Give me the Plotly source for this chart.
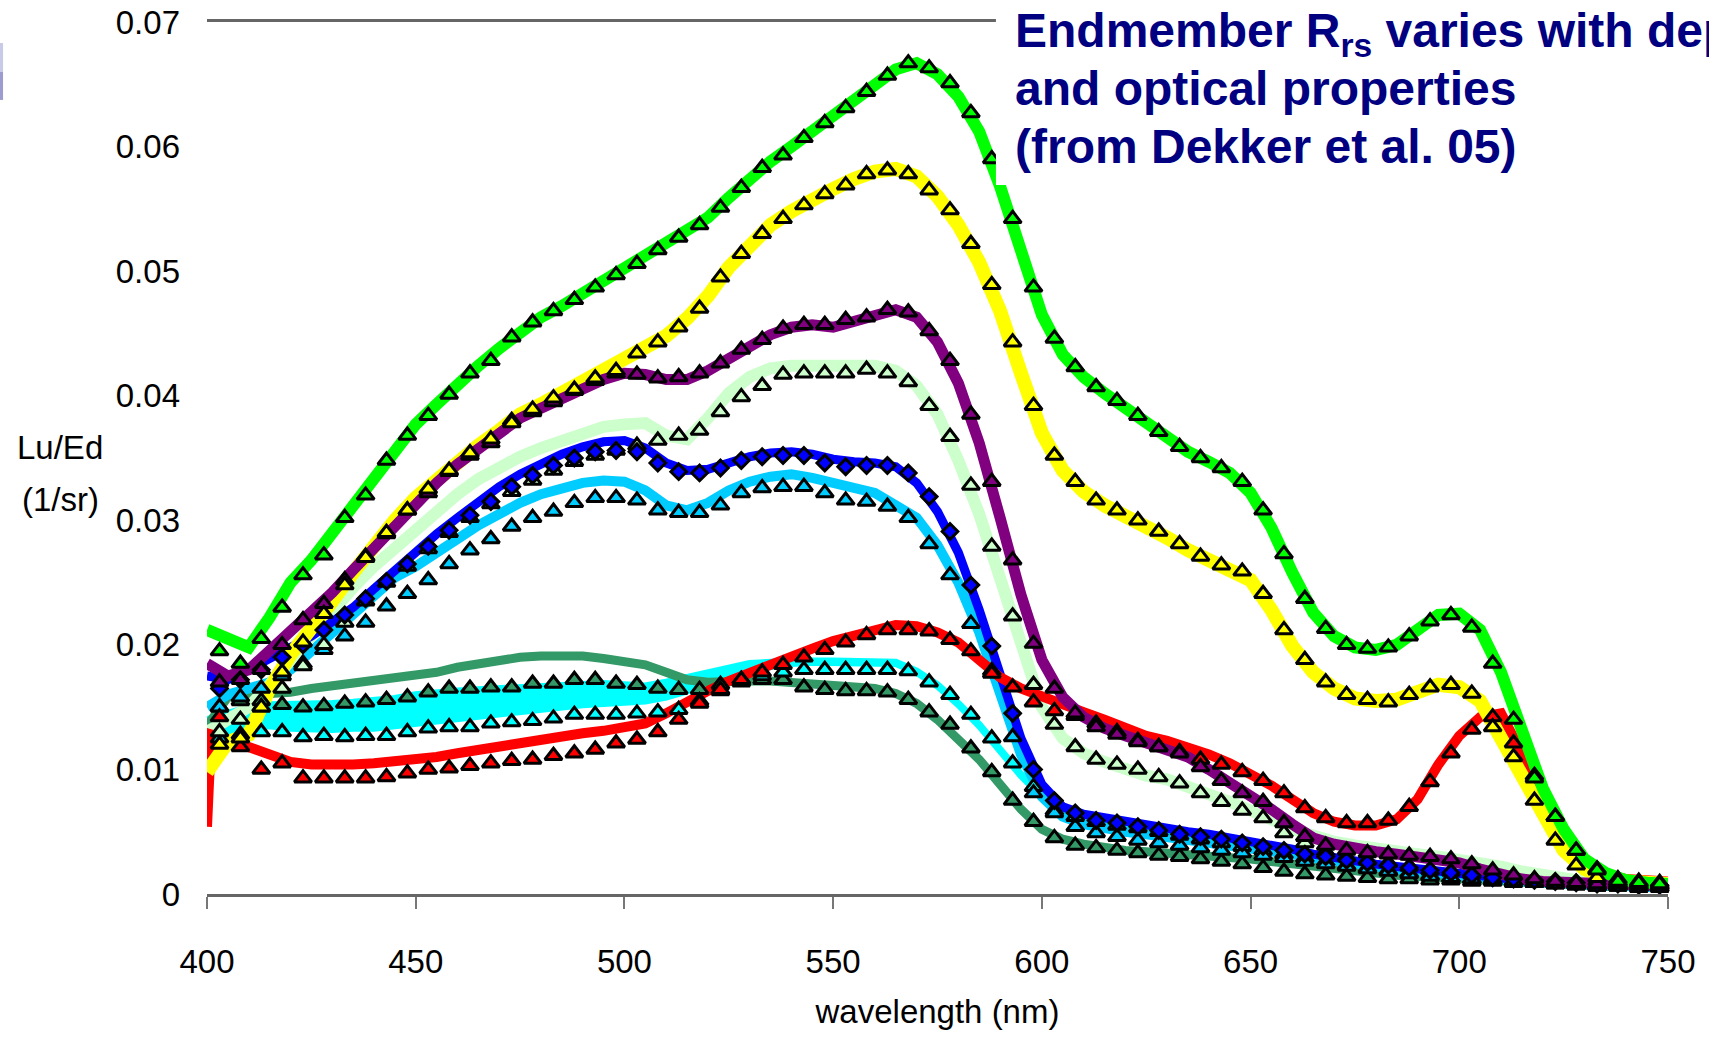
import plotly.graph_objects as go

# ---------------- data ----------------
WL = list(range(400, 751, 5))          # line samples (71)
WL_TRI = list(range(403, 749, 5))      # triangle samples (70)
RED_WL = [400, 401] + list(range(405, 751, 5))  # red line samples (72)

X_TICKS = [400, 450, 500, 550, 600, 650, 700, 750]
Y_TICKS = [0, 0.01, 0.02, 0.03, 0.04, 0.05, 0.06, 0.07]
Y_LABELS = ["0", "0.01", "0.02", "0.03", "0.04", "0.05", "0.06", "0.07"]
Y_GRID = [0, 0.02, 0.04, 0.06]

green_line = [
    0.0212, 0.0205, 0.0198, 0.0222, 0.0250, 0.0268, 0.0290, 0.0312, 0.0335, 0.0358,
    0.0377, 0.0393, 0.0410, 0.0424, 0.0438, 0.0452, 0.0463, 0.0472, 0.0482, 0.0491,
    0.0501, 0.0511, 0.0522, 0.0532, 0.0543, 0.0559, 0.0575, 0.0588, 0.0600, 0.0613,
    0.0625, 0.0638, 0.0651, 0.0662, 0.0667, 0.0658, 0.0640, 0.0612, 0.0568, 0.0515,
    0.0465, 0.0433, 0.0415, 0.0402, 0.0390, 0.0378, 0.0366, 0.0355, 0.0347, 0.0338,
    0.0322, 0.0294, 0.0258, 0.0226, 0.0207, 0.0198, 0.0196, 0.0200, 0.0212, 0.0224,
    0.0225, 0.0212, 0.0178, 0.0128, 0.0085, 0.0052, 0.0028, 0.0017, 0.0011, 0.0009,
    0.0008]
green_tri = [
    0.0195, 0.0185, 0.0205, 0.0230, 0.0256, 0.0272, 0.0302, 0.0320, 0.0348, 0.0368,
    0.0384, 0.0401, 0.0418, 0.0428, 0.0447, 0.0459, 0.0468, 0.0477, 0.0487, 0.0497,
    0.0506, 0.0517, 0.0527, 0.0537, 0.0551, 0.0567, 0.0583, 0.0593, 0.0607, 0.0619,
    0.0631, 0.0644, 0.0657, 0.0667, 0.0663, 0.0651, 0.0627, 0.0590, 0.0542, 0.0487,
    0.0446, 0.0423, 0.0407, 0.0396, 0.0384, 0.0371, 0.0359, 0.0350, 0.0342, 0.0331,
    0.0308, 0.0273, 0.0237, 0.0213, 0.0200, 0.0197, 0.0198, 0.0207, 0.0219, 0.0224,
    0.0214, 0.0185, 0.0140, 0.0093, 0.0062, 0.0035, 0.0019, 0.0010, 0.0009, 0.0008]

yellow_line = [
    0.0098, 0.0122, 0.0128, 0.0165, 0.0192, 0.0212, 0.0235, 0.0258, 0.0280, 0.0300,
    0.0318, 0.0333, 0.0348, 0.0360, 0.0372, 0.0385, 0.0393, 0.0402, 0.0410, 0.0418,
    0.0427, 0.0437, 0.0448, 0.0462, 0.0480, 0.0503, 0.0522, 0.0537, 0.0548, 0.0558,
    0.0566, 0.0574, 0.0580, 0.0582, 0.0576, 0.0560, 0.0537, 0.0507, 0.0468, 0.0418,
    0.0370, 0.0340, 0.0323, 0.0312, 0.0304, 0.0296, 0.0286, 0.0276, 0.0268, 0.0262,
    0.0252, 0.0228, 0.0199, 0.0178, 0.0165, 0.0157, 0.0155, 0.0156, 0.0163, 0.0168,
    0.0166, 0.0155, 0.0125, 0.0095, 0.0062, 0.0035, 0.0020, 0.0013, 0.0010, 0.0008,
    0.0008]
yellow_tri = [
    0.0120, 0.0125, 0.0150, 0.0178, 0.0202, 0.0225, 0.0248, 0.0270, 0.0290, 0.0308,
    0.0325, 0.0340, 0.0354, 0.0365, 0.0378, 0.0389, 0.0398, 0.0405, 0.0414, 0.0420,
    0.0434, 0.0443, 0.0455, 0.0470, 0.0495, 0.0514, 0.0530, 0.0542, 0.0553, 0.0562,
    0.0569, 0.0578, 0.0581, 0.0578, 0.0565, 0.0549, 0.0522, 0.0489, 0.0443, 0.0392,
    0.0352, 0.0331, 0.0316, 0.0308, 0.0300, 0.0291, 0.0281, 0.0271, 0.0264, 0.0259,
    0.0241, 0.0212, 0.0188, 0.0170, 0.0160, 0.0156, 0.0154, 0.0160, 0.0166, 0.0168,
    0.0161, 0.0134, 0.0110, 0.0075, 0.0043, 0.0023, 0.0013, 0.0009, 0.0008, 0.0007]

purple_line = [
    0.0185, 0.0175, 0.0180, 0.0195, 0.0212, 0.0226, 0.0242, 0.0260, 0.0278, 0.0297,
    0.0314, 0.0330, 0.0345, 0.0357, 0.0370, 0.0382, 0.0390, 0.0398, 0.0406, 0.0413,
    0.0418, 0.0417, 0.0413, 0.0413, 0.0420, 0.0430, 0.0440, 0.0449, 0.0455, 0.0457,
    0.0455, 0.0460, 0.0466, 0.0469, 0.0463, 0.0443, 0.0410, 0.0362, 0.0302, 0.0240,
    0.0188, 0.0158, 0.0142, 0.0133, 0.0127, 0.0122, 0.0117, 0.0110, 0.0100, 0.0090,
    0.0080, 0.0068, 0.0056, 0.0045, 0.0040, 0.0036, 0.0034, 0.0032, 0.0030, 0.0028,
    0.0025, 0.0020, 0.0015, 0.0012, 0.0010, 0.0009, 0.0008, 0.0008, 0.0007, 0.0007,
    0.0007]
purple_tri = [
    0.0170, 0.0172, 0.0180, 0.0200, 0.0220, 0.0233, 0.0252, 0.0271, 0.0289, 0.0308,
    0.0322, 0.0339, 0.0352, 0.0362, 0.0380, 0.0387, 0.0395, 0.0404, 0.0412, 0.0418,
    0.0417, 0.0414, 0.0415, 0.0418, 0.0426, 0.0437, 0.0445, 0.0454, 0.0457, 0.0457,
    0.0461, 0.0463, 0.0469, 0.0467, 0.0452, 0.0428, 0.0385, 0.0331, 0.0268, 0.0201,
    0.0165, 0.0145, 0.0134, 0.0128, 0.0122, 0.0118, 0.0113, 0.0102, 0.0091, 0.0081,
    0.0074, 0.0057, 0.0046, 0.0039, 0.0035, 0.0033, 0.0032, 0.0031, 0.0030, 0.0028,
    0.0024, 0.0019, 0.0015, 0.0012, 0.0010, 0.0009, 0.0008, 0.0008, 0.0007, 0.0007]

lightgreen_line = [
    0.0130, 0.0140, 0.0150, 0.0168, 0.0188, 0.0208, 0.0228, 0.0246, 0.0263, 0.0278,
    0.0293, 0.0308, 0.0321, 0.0333, 0.0343, 0.0351, 0.0358, 0.0364, 0.0370, 0.0375,
    0.0377, 0.0378, 0.0368, 0.0365, 0.0382, 0.0402, 0.0415, 0.0422, 0.0424, 0.0424,
    0.0424, 0.0424, 0.0424, 0.0420, 0.0408, 0.0385, 0.0348, 0.0305, 0.0255, 0.0200,
    0.0150, 0.0125, 0.0113, 0.0106, 0.0100, 0.0095, 0.0092, 0.0087, 0.0080, 0.0074,
    0.0068, 0.0060, 0.0052, 0.0046, 0.0042, 0.0039, 0.0036, 0.0034, 0.0032, 0.0030,
    0.0028, 0.0025, 0.0022, 0.0018, 0.0015, 0.0012, 0.0010, 0.0009, 0.0008, 0.0008,
    0.0008]
lightgreen_tri = [
    0.0130, 0.0140, 0.0150, 0.0165, 0.0183, 0.0200, 0.0218, 0.0235, 0.0250, 0.0263,
    0.0277, 0.0290, 0.0302, 0.0313, 0.0323, 0.0332, 0.0340, 0.0347, 0.0352, 0.0356,
    0.0360, 0.0364, 0.0368, 0.0372, 0.0387, 0.0399, 0.0408, 0.0417, 0.0418, 0.0418,
    0.0418, 0.0421, 0.0418, 0.0411, 0.0392, 0.0367, 0.0328, 0.0279, 0.0223, 0.0168,
    0.0136, 0.0118, 0.0108, 0.0104, 0.0100, 0.0094, 0.0089, 0.0081, 0.0074, 0.0067,
    0.0061, 0.0049, 0.0041, 0.0034, 0.0030, 0.0027, 0.0025, 0.0022, 0.0019, 0.0018,
    0.0016, 0.0012, 0.0010, 0.0009, 0.0008, 0.0008, 0.0007, 0.0007, 0.0007, 0.0007]

blue_line = [
    0.0175, 0.0172, 0.0180, 0.0190, 0.0198, 0.0207, 0.0218, 0.0230, 0.0245, 0.0260,
    0.0274, 0.0289, 0.0302, 0.0315, 0.0327, 0.0337, 0.0346, 0.0353, 0.0359, 0.0363,
    0.0364, 0.0358, 0.0346, 0.0340, 0.0341, 0.0346, 0.0351, 0.0354, 0.0355, 0.0353,
    0.0349, 0.0347, 0.0346, 0.0343, 0.0330, 0.0307, 0.0274, 0.0228, 0.0175, 0.0125,
    0.0088, 0.0070, 0.0064, 0.0061, 0.0058, 0.0056, 0.0053, 0.0050, 0.0048, 0.0045,
    0.0043, 0.0040, 0.0036, 0.0032, 0.0029, 0.0026, 0.0024, 0.0022, 0.0020, 0.0018,
    0.0016, 0.0014, 0.0012, 0.0011, 0.0010, 0.0009, 0.0008, 0.0008, 0.0008, 0.0008,
    0.0008]
blue_marks = [
    0.0165, 0.0172, 0.0180, 0.0190, 0.0200, 0.0212, 0.0224, 0.0237, 0.0251, 0.0265,
    0.0279, 0.0292, 0.0304, 0.0315, 0.0327, 0.0336, 0.0344, 0.0350, 0.0355, 0.0356,
    0.0355, 0.0346, 0.0339, 0.0338, 0.0342, 0.0348, 0.0351, 0.0352, 0.0352, 0.0346,
    0.0343, 0.0344, 0.0344, 0.0338, 0.0319, 0.0291, 0.0248, 0.0199, 0.0145, 0.0100,
    0.0075, 0.0065, 0.0059, 0.0057, 0.0054, 0.0051, 0.0048, 0.0046, 0.0044, 0.0041,
    0.0038, 0.0035, 0.0032, 0.0030, 0.0027, 0.0025, 0.0023, 0.0021, 0.0019, 0.0017,
    0.0015, 0.0013, 0.0012, 0.0011, 0.0010, 0.0009, 0.0008, 0.0008, 0.0007, 0.0007]

skyblue_line = [
    0.0150, 0.0160, 0.0165, 0.0170, 0.0180, 0.0195, 0.0210, 0.0225, 0.0240, 0.0254,
    0.0263, 0.0273, 0.0285, 0.0296, 0.0306, 0.0314, 0.0321, 0.0326, 0.0330, 0.0332,
    0.0331, 0.0324, 0.0312, 0.0308, 0.0314, 0.0324, 0.0331, 0.0335, 0.0337, 0.0334,
    0.0330, 0.0326, 0.0322, 0.0312, 0.0302, 0.0280, 0.0250, 0.0210, 0.0160, 0.0112,
    0.0078, 0.0062, 0.0056, 0.0052, 0.0050, 0.0048, 0.0046, 0.0044, 0.0042, 0.0040,
    0.0038, 0.0035, 0.0032, 0.0029, 0.0026, 0.0024, 0.0022, 0.0020, 0.0018, 0.0016,
    0.0014, 0.0012, 0.0011, 0.0010, 0.0009, 0.0008, 0.0007, 0.0006, 0.0006, 0.0005,
    0.0005]
skyblue_tri = [
    0.0150, 0.0158, 0.0165, 0.0175, 0.0185, 0.0196, 0.0207, 0.0218, 0.0231, 0.0241,
    0.0252, 0.0265, 0.0276, 0.0285, 0.0295, 0.0302, 0.0307, 0.0314, 0.0318, 0.0318,
    0.0316, 0.0308, 0.0306, 0.0306, 0.0312, 0.0322, 0.0326, 0.0327, 0.0327, 0.0322,
    0.0316, 0.0315, 0.0311, 0.0302, 0.0281, 0.0256, 0.0217, 0.0179, 0.0126, 0.0081,
    0.0065, 0.0054, 0.0049, 0.0046, 0.0043, 0.0041, 0.0039, 0.0037, 0.0035, 0.0033,
    0.0031, 0.0029, 0.0026, 0.0024, 0.0022, 0.0020, 0.0018, 0.0016, 0.0014, 0.0013,
    0.0012, 0.0011, 0.0010, 0.0009, 0.0008, 0.0007, 0.0006, 0.0006, 0.0005, 0.0005]

cyan_upper_line = [
    0.0140, 0.0145, 0.0150, 0.0152, 0.0152, 0.0152, 0.0153, 0.0154, 0.0155, 0.0157,
    0.0160, 0.0162, 0.0163, 0.0164, 0.0165, 0.0166, 0.0167, 0.0168, 0.0169, 0.0169,
    0.0168, 0.0167, 0.0170, 0.0174, 0.0178, 0.0182, 0.0185, 0.0186, 0.0187, 0.0187,
    0.0187, 0.0187, 0.0187, 0.0186, 0.0179, 0.0168, 0.0153, 0.0136, 0.0116, 0.0096,
    0.0079, 0.0069, 0.0064, 0.0060, 0.0057, 0.0054, 0.0051, 0.0048, 0.0045, 0.0042,
    0.0040, 0.0037, 0.0034, 0.0031, 0.0028, 0.0025, 0.0022, 0.0020, 0.0018, 0.0016,
    0.0014, 0.0012, 0.0011, 0.0010, 0.0009, 0.0008, 0.0007, 0.0006, 0.0006, 0.0005,
    0.0005]
cyan_lower_line = [
    0.0108, 0.0130, 0.0133, 0.0135, 0.0133, 0.0132, 0.0132, 0.0133, 0.0133, 0.0135,
    0.0137, 0.0139, 0.0140, 0.0142, 0.0144, 0.0146, 0.0148, 0.0150, 0.0152, 0.0153,
    0.0154, 0.0155, 0.0158, 0.0163, 0.0170, 0.0176, 0.0180, 0.0183, 0.0185, 0.0186,
    0.0186, 0.0186, 0.0186, 0.0185, 0.0178, 0.0167, 0.0152, 0.0135, 0.0115, 0.0095,
    0.0078, 0.0068, 0.0063, 0.0059, 0.0056, 0.0053, 0.0050, 0.0047, 0.0044, 0.0041,
    0.0039, 0.0036, 0.0033, 0.0030, 0.0027, 0.0024, 0.0021, 0.0019, 0.0017, 0.0015,
    0.0013, 0.0012, 0.0011, 0.0010, 0.0009, 0.0008, 0.0007, 0.0006, 0.0006, 0.0005,
    0.0005]
cyan_tri = [
    0.0125, 0.0128, 0.0130, 0.0130, 0.0126, 0.0127, 0.0126, 0.0127, 0.0127, 0.0130,
    0.0133, 0.0134, 0.0134, 0.0137, 0.0138, 0.0139, 0.0141, 0.0144, 0.0144, 0.0144,
    0.0145, 0.0146, 0.0148, 0.0155, 0.0163, 0.0170, 0.0175, 0.0178, 0.0180, 0.0180,
    0.0180, 0.0180, 0.0180, 0.0179, 0.0170, 0.0160, 0.0144, 0.0125, 0.0105, 0.0086,
    0.0067, 0.0062, 0.0058, 0.0055, 0.0053, 0.0050, 0.0047, 0.0044, 0.0041, 0.0038,
    0.0035, 0.0032, 0.0029, 0.0026, 0.0023, 0.0021, 0.0019, 0.0017, 0.0015, 0.0013,
    0.0012, 0.0011, 0.0010, 0.0009, 0.0008, 0.0007, 0.0006, 0.0006, 0.0005, 0.0005]

seagreen_line = [
    0.0135, 0.0158, 0.0160, 0.0161, 0.0162, 0.0165, 0.0167, 0.0169, 0.0171, 0.0173,
    0.0175, 0.0178, 0.0182, 0.0185, 0.0188, 0.0190, 0.0191, 0.0191, 0.0191, 0.0189,
    0.0187, 0.0184, 0.0178, 0.0172, 0.0170, 0.0171, 0.0171, 0.0171, 0.0170, 0.0169,
    0.0168, 0.0167, 0.0165, 0.0161, 0.0153, 0.0140, 0.0125, 0.0108, 0.0088, 0.0068,
    0.0052, 0.0044, 0.0040, 0.0037, 0.0035, 0.0034, 0.0033, 0.0032, 0.0031, 0.0030,
    0.0028, 0.0026, 0.0024, 0.0022, 0.0020, 0.0018, 0.0017, 0.0015, 0.0014, 0.0013,
    0.0012, 0.0011, 0.0010, 0.0009, 0.0008, 0.0007, 0.0007, 0.0006, 0.0006, 0.0006,
    0.0006]
seagreen_tri = [
    0.0150, 0.0155, 0.0155, 0.0152, 0.0150, 0.0151, 0.0153, 0.0154, 0.0156, 0.0158,
    0.0162, 0.0165, 0.0165, 0.0166, 0.0166, 0.0169, 0.0169, 0.0172, 0.0172, 0.0169,
    0.0168, 0.0165, 0.0164, 0.0164, 0.0168, 0.0172, 0.0172, 0.0172, 0.0166, 0.0164,
    0.0163, 0.0163, 0.0162, 0.0156, 0.0146, 0.0136, 0.0117, 0.0098, 0.0075, 0.0058,
    0.0045, 0.0039, 0.0037, 0.0035, 0.0033, 0.0031, 0.0030, 0.0028, 0.0026, 0.0024,
    0.0021, 0.0018, 0.0016, 0.0015, 0.0014, 0.0013, 0.0012, 0.0012, 0.0011, 0.0011,
    0.0010, 0.0010, 0.0009, 0.0009, 0.0008, 0.0008, 0.0007, 0.0007, 0.0006, 0.0006]

red_line = [
    0.0054, 0.0128,
    0.0124, 0.0118, 0.0110, 0.0106, 0.0104, 0.0103, 0.0104, 0.0105, 0.0106, 0.0108,
    0.0110, 0.0113, 0.0116, 0.0118, 0.0121, 0.0123, 0.0126, 0.0129, 0.0131, 0.0134,
    0.0137, 0.0145, 0.0155, 0.0163, 0.0171, 0.0178, 0.0185, 0.0191, 0.0197, 0.0203,
    0.0208, 0.0213, 0.0216, 0.0215, 0.0210, 0.0202, 0.0189, 0.0174, 0.0165, 0.0158,
    0.0151, 0.0146, 0.0140, 0.0133, 0.0127, 0.0123, 0.0118, 0.0112, 0.0105, 0.0097,
    0.0087, 0.0076, 0.0065, 0.0058, 0.0055, 0.0055, 0.0060, 0.0076, 0.0104, 0.0127,
    0.0142, 0.0145, 0.0112, 0.0082, 0.0048, 0.0026, 0.0016, 0.0012, 0.0011, 0.0010]
red_tri = [
    0.0142, 0.0118, 0.0100, 0.0105, 0.0093, 0.0093, 0.0093, 0.0093, 0.0094, 0.0097,
    0.0100, 0.0101, 0.0103, 0.0105, 0.0107, 0.0108, 0.0111, 0.0113, 0.0116, 0.0121,
    0.0124, 0.0130, 0.0140, 0.0153, 0.0164, 0.0172, 0.0178, 0.0184, 0.0190, 0.0196,
    0.0202, 0.0208, 0.0212, 0.0212, 0.0211, 0.0204, 0.0195, 0.0177, 0.0166, 0.0154,
    0.0147, 0.0143, 0.0137, 0.0130, 0.0123, 0.0118, 0.0114, 0.0108, 0.0104, 0.0098,
    0.0091, 0.0081, 0.0069, 0.0061, 0.0057, 0.0057, 0.0059, 0.0070, 0.0090, 0.0113,
    0.0132, 0.0142, 0.0121, 0.0095, 0.0062, 0.0035, 0.0020, 0.0012, 0.0010, 0.0009]

TITLE_LINES = ["Endmember R<sub>rs</sub> varies with depth",
               "and optical properties",
               "(from Dekker et al. 05)"]

# ---------------- styling ----------------
C_GREEN = "#00FF00"
C_YELLOW = "#FFFF00"
C_PURPLE = "#800080"
C_LIGHTGREEN = "#CCFFCC"
C_BLUE = "#0000FF"
C_SKY = "#00CCFF"
C_CYAN = "#00FFFF"
C_SEA = "#339966"
C_RED = "#FF0000"

SANS = "Liberation Sans, Arial, sans-serif"
AX_FONT = dict(family=SANS, size=33, color="black")

fig = go.Figure()

# cyan band: lower edge, then upper edge filled down to it
fig.add_trace(go.Scatter(x=WL, y=cyan_lower_line, mode="lines", yaxis="y2",
                         line=dict(color=C_CYAN, width=7), hoverinfo="skip"))
fig.add_trace(go.Scatter(x=WL, y=cyan_upper_line, mode="lines", yaxis="y2",
                         line=dict(color=C_CYAN, width=7), fill="tonexty",
                         fillcolor=C_CYAN, hoverinfo="skip"))

line_series = [
    (WL, seagreen_line, C_SEA, 9),
    (WL, skyblue_line, C_SKY, 10),
    (WL, lightgreen_line, C_LIGHTGREEN, 12),
    (WL, blue_line, C_BLUE, 9),
    (RED_WL, red_line, C_RED, 10),
    (WL, yellow_line, C_YELLOW, 14),
    (WL, purple_line, C_PURPLE, 11),
    (WL, green_line, C_GREEN, 12),
]
for xs, ys, col, w in line_series:
    fig.add_trace(go.Scatter(x=xs, y=ys, mode="lines", yaxis="y2",
                             line=dict(color=col, width=w), hoverinfo="skip"))

marker_series = [
    (seagreen_tri, C_SEA, "triangle-up"),
    (cyan_tri, C_CYAN, "triangle-up"),
    (skyblue_tri, C_SKY, "triangle-up"),
    (red_tri, C_RED, "triangle-up"),
    (lightgreen_tri, C_LIGHTGREEN, "triangle-up"),
    (blue_marks, C_BLUE, "diamond"),
    (purple_tri, C_PURPLE, "triangle-up"),
    (yellow_tri, C_YELLOW, "triangle-up"),
    (green_tri, C_GREEN, "triangle-up"),
]
for ys, col, sym in marker_series:
    fig.add_trace(go.Scatter(x=WL_TRI, y=ys, mode="markers", yaxis="y2",
                             marker=dict(symbol=sym, size=15 if sym != "diamond" else 12,
                                         color=col, line=dict(color="black", width=3)),
                             cliponaxis=False, hoverinfo="skip"))

fig.update_layout(
    width=1709, height=1037,
    margin=dict(l=207, r=41, t=22, b=143, autoexpand=False),
    plot_bgcolor="white", paper_bgcolor="white",
    showlegend=False,
    xaxis=dict(range=[400, 750], tickvals=X_TICKS, ticktext=[str(v) for v in X_TICKS],
               ticks="outside", ticklen=12, tickwidth=2, tickcolor="#777",
               showline=True, linecolor="#666", linewidth=3, mirror=True,
               showgrid=False, zeroline=False, automargin=False,
               tickfont=AX_FONT, ticklabelstandoff=24,
               title=dict(text="wavelength (nm)", font=AX_FONT, standoff=22)),
    yaxis=dict(range=[0, 0.07], tickvals=Y_GRID, showticklabels=False,
               ticks="outside", ticklen=12, tickwidth=2, tickcolor="#222",
               showgrid=True, gridcolor="#222", gridwidth=2,
               showline=True, linecolor="#888", linewidth=3, mirror=True,
               zeroline=False, automargin=False),
    yaxis2=dict(overlaying="y", anchor="x", side="left", range=[0, 0.07],
                tickvals=Y_TICKS, ticktext=Y_LABELS, ticks="", showgrid=False,
                zeroline=False, showline=False, automargin=False,
                tickfont=AX_FONT, ticklabelstandoff=26),
)

# white title panel covering the top-right corner, plus slide artefact at far left
fig.add_shape(type="rect", xref="paper", yref="paper", x0=0.54, x1=1.2, y0=0.813, y1=1.2,
              fillcolor="white", line=dict(width=0), layer="above")
fig.add_shape(type="rect", xref="paper", yref="paper", x0=-0.1417, x1=-0.1396, y0=0.9427, y1=0.9759,
              fillcolor="#c9c9e8", line=dict(width=0), layer="above")
fig.add_shape(type="rect", xref="paper", yref="paper", x0=-0.1417, x1=-0.1396, y0=0.9106, y1=0.9427,
              fillcolor="#9c9ccf", line=dict(width=0), layer="above")

for txt, ypos in zip(TITLE_LINES, [1.0229, 0.9565, 0.8901]):
    fig.add_annotation(
        xref="paper", yref="paper", x=0.5514, y=ypos, xanchor="left", yanchor="top",
        align="left", showarrow=False, text="<b>" + txt + "</b>",
        font=dict(family=SANS, size=48, color="#000080"),
    )
fig.add_annotation(xref="paper", yref="paper", x=-0.1006, y=(894 - 447) / 872,
                   xanchor="center", yanchor="middle", showarrow=False,
                   text="Lu/Ed", font=AX_FONT)
fig.add_annotation(xref="paper", yref="paper", x=-0.1006, y=(894 - 499) / 872,
                   xanchor="center", yanchor="middle", showarrow=False,
                   text="(1/sr)", font=AX_FONT)

fig.write_html("out.html")
